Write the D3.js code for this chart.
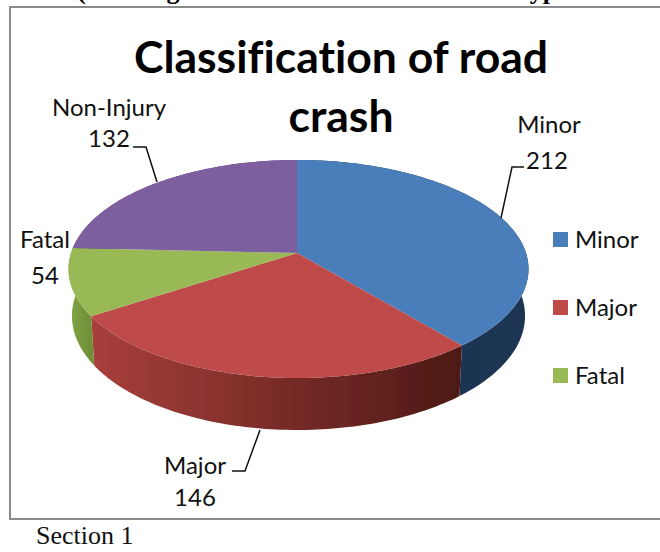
<!DOCTYPE html>
<html>
<head>
<meta charset="utf-8">
<script src="https://cdn.jsdelivr.net/npm/d3@7"></script>
<style>
  html, body { margin: 0; padding: 0; background: #fff; overflow: hidden; }
  svg { display: block; }
  text { font-variant-ligatures: none; }
  .lbl { font-family: Lato, "Noto Sans", sans-serif; font-size: 24px; fill: #111; text-anchor: middle; }
</style>
</head>
<body>
<div id="chart"></div>
<script>
// data
const categories = ["Minor", "Major", "Fatal", "Non-Injury"];
const crashCounts = [212, 146, 54, 132];
const legendItems = ["Minor", "Major", "Fatal"];
const titleLines = ["Classification of road", "crash"];

const topColors = ["#4a7ebb", "#be4b48", "#98b954", "#7d5fa0"];
const sideLeft = ["#17304f", "#a83f3c", "#83a542", "#5f4580"];
const sideRight = ["#1b3553", "#4c1915", "#6f8f38", "#5f4580"];

const width = 660, height = 552;
const svg = d3.select("#chart").append("svg").attr("width", width).attr("height", height);

// clipped line of the page above the figure
svg.append("text").attr("x", 77).attr("y", -1)
    .attr("font-family", "Liberation Serif").attr("font-weight", "bold").attr("font-size", 26)
    .text("(Chainage 15.000 to 34.000");
svg.append("text").attr("x", 422).attr("y", -1)
    .attr("font-family", "Liberation Serif").attr("font-weight", "bold").attr("font-size", 26)
    .text("Godhra bypass");

// frame, open past the right edge
svg.append("path")
    .attr("d", d3.line()([[width + 2, 7], [10, 7], [10, 519], [width + 2, 519]]))
    .attr("fill", "none").attr("stroke", "#8a8a8a").attr("stroke-width", 2);

const defs = svg.append("defs");
const blur = defs.append("filter").attr("id", "soft");
blur.append("feGaussianBlur").attr("stdDeviation", 0.6);

// perspective projection of the unit pie onto the page
const apex = {x: 297, y: 253};
const rxRight = 229, rxLeft = 226, ryK = 106.65, persp = 0.1468;
function project(angle) {
    let ux = Math.sin(angle), uy = -Math.cos(angle);
    let w = 1 - persp * uy;
    return [apex.x + (ux > 0 ? rxRight : rxLeft) * ux / w, apex.y + ryK * uy / w];
}
function projectBottom(angle) {
    let uy = -Math.cos(angle);
    let p = project(angle);
    return [apex.x + (p[0] - apex.x) * 0.985, p[1] + 46 + 6 * uy];
}
function arcAngles(a0, a1) {
    let n = Math.max(2, Math.ceil((a1 - a0) / 0.02));
    return d3.range(n + 1).map(i => a0 + (a1 - a0) * i / n);
}

const slices = d3.pie().sort(null).value(d => d)(crashCounts);
const line = d3.line();
const pieG = svg.append("g").attr("filter", "url(#soft)");

// side walls first, the top face hides the back of them
slices.forEach((s, i) => {
    let angles = arcAngles(s.startAngle, s.endAngle);
    let xs = angles.map(a => project(a)[0]);
    let grad = defs.append("linearGradient").attr("id", "side" + i)
        .attr("gradientUnits", "userSpaceOnUse")
        .attr("x1", d3.min(xs)).attr("x2", d3.max(xs)).attr("y1", 0).attr("y2", 0);
    grad.append("stop").attr("offset", 0).attr("stop-color", sideLeft[i]);
    grad.append("stop").attr("offset", 1).attr("stop-color", sideRight[i]);
    let pts = angles.map(project).concat(angles.slice().reverse().map(projectBottom));
    pieG.append("path").attr("d", line(pts) + "Z").attr("fill", "url(#side" + i + ")");
});

slices.forEach((s, i) => {
    let pts = [[apex.x, apex.y]].concat(arcAngles(s.startAngle, s.endAngle).map(project));
    pieG.append("path").attr("d", line(pts) + "Z").attr("fill", topColors[i]);
});

// title
svg.selectAll(".title").data(titleLines).enter().append("text")
    .attr("class", "title")
    .attr("x", 341)
    .attr("y", (d, i) => 73 + i * 59)
    .attr("text-anchor", "middle")
    .attr("font-family", "Lato, 'Noto Sans', sans-serif")
    .attr("font-weight", "bold")
    .attr("font-size", 44.5)
    .attr("fill", "#000")
    .text(d => d);

// data labels and their leader lines
const labelSpots = [
    {x: 549, y: 133, dy: 36, vx: 547},
    {x: 195, y: 474, dy: 32, vx: 195},
    {x: 45, y: 248, dy: 36, vx: 45},
    {x: 109, y: 116, dy: 31, vx: 109}
];
categories.forEach((c, i) => {
    let spot = labelSpots[i];
    svg.append("text").attr("class", "lbl").attr("x", spot.x).attr("y", spot.y).text(c);
    svg.append("text").attr("class", "lbl").attr("x", spot.vx).attr("y", spot.y + spot.dy).text(crashCounts[i]);
});
const leaders = [
    [[524, 167], [512, 167], [501, 218]],
    [[232, 471], [245, 471], [260, 430]],
    [[133, 147], [146, 147], [157, 182]]
];
svg.selectAll(".leader").data(leaders).enter().append("path")
    .attr("class", "leader")
    .attr("d", d => line(d))
    .attr("fill", "none").attr("stroke", "#111").attr("stroke-width", 1.5);

// legend (the last entry does not fit in the frame, same as the source)
const legendY = d3.scalePoint().domain(legendItems).range([232, 368]);
const legend = svg.selectAll(".legend").data(legendItems).enter().append("g")
    .attr("class", "legend")
    .attr("transform", d => "translate(553," + legendY(d) + ")");
legend.append("rect").attr("width", 15).attr("height", 15)
    .attr("fill", d => topColors[categories.indexOf(d)]);
legend.append("text").attr("x", 22).attr("y", 16)
    .attr("font-family", "Lato, 'Noto Sans', sans-serif").attr("font-size", 24).attr("fill", "#111")
    .text(d => d);

// caption under the figure
svg.append("text").attr("x", 36).attr("y", 544)
    .attr("font-family", "Liberation Serif").attr("font-size", 26).attr("fill", "#111")
    .text("Section 1");
</script>
</body>
</html>
